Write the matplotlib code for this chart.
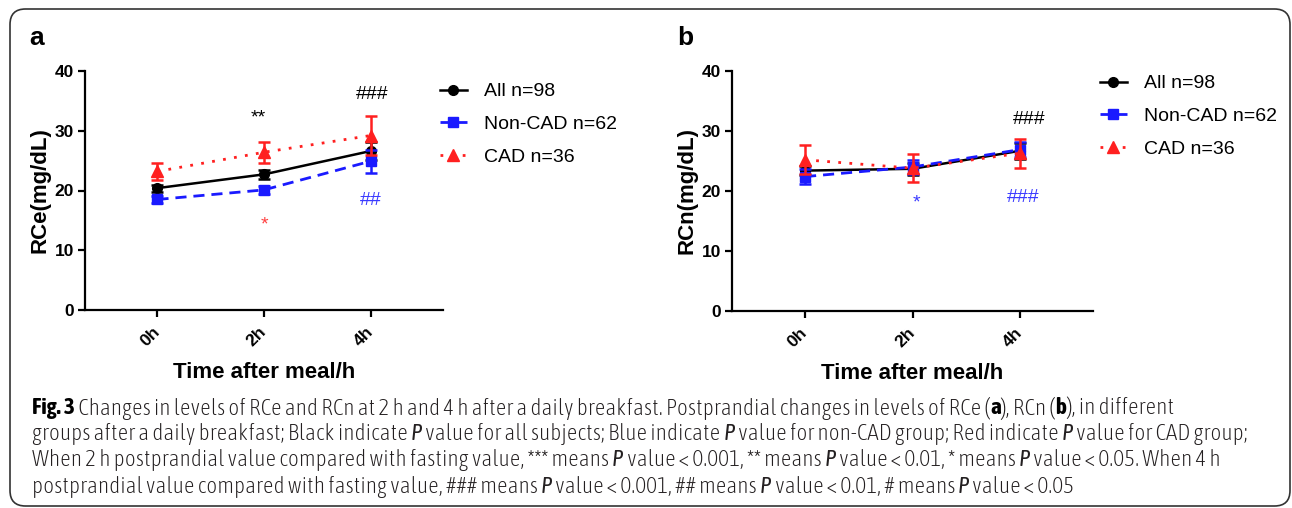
import matplotlib
matplotlib.use('Agg')
import matplotlib.pyplot as plt
from matplotlib import font_manager
from matplotlib.patches import FancyBboxPatch

# values
times = ['0h', '2h', '4h']
x = [0, 1, 2]

rce_all = [20.4, 22.7, 26.6]
rce_all_err = [0.6, 0.7, 1.5]
rce_non = [18.5, 20.1, 24.9]
rce_non_err = [0.6, 0.7, 1.9]
rce_cad = [23.2, 26.4, 29.2]
rce_cad_err = [1.4, 1.8, 3.3]

rcn_all = [23.4, 23.7, 26.7]
rcn_all_err = [0.8, 1.0, 1.3]
rcn_non = [22.4, 24.0, 26.9]
rcn_non_err = [1.2, 1.1, 1.2]
rcn_cad = [25.2, 23.8, 26.3]
rcn_cad_err = [2.4, 2.3, 2.4]

labels = ['All n=98', 'Non-CAD n=62', 'CAD n=36']

# significance marks: (x, y, text, colour)
marks_a = [(0.95, 32.2, '**', 'black'), (2.02, 36.0, '###', 'black'),
           (2.0, 18.3, '##', '#3a3aff'), (1.0, 14.2, '*', '#ff4040')]
marks_b = [(2.09, 32.0, '###', 'black'), (2.03, 19.0, '###', '#3a3aff'),
           (1.04, 18.0, '*', '#3a3aff')]

caption = [
    [('Fig. 3', 'b'), (' Changes in levels of RCe and RCn at 2 h and 4 h after a daily breakfast. '
                       'Postprandial changes in levels of RCe (', 'n'), ('a', 'b'), ('), RCn (', 'n'),
     ('b', 'b'), ('), in different', 'n')],
    [('groups after a daily breakfast; Black indicate ', 'n'), ('P', 'i'),
     (' value for all subjects; Blue indicate ', 'n'), ('P', 'i'),
     (' value for non-CAD group; Red indicate ', 'n'), ('P', 'i'), (' value for CAD group;', 'n')],
    [('When 2 h postprandial value compared with fasting value, *** means ', 'n'), ('P', 'i'),
     (' value < 0.001, ** means ', 'n'), ('P', 'i'), (' value < 0.01, * means ', 'n'), ('P', 'i'),
     (' value < 0.05. When 4 h', 'n')],
    [('postprandial value compared with fasting value, ### means ', 'n'), ('P', 'i'),
     (' value < 0.001, ## means ', 'n'), ('P', 'i'), (' value < 0.01, # means ', 'n'), ('P', 'i'),
     (' value < 0.05', 'n')],
]

plt.rcParams['font.family'] = ['Liberation Sans', 'DejaVu Sans']


def weight_num(w):
    if isinstance(w, str):
        return font_manager.weight_dict.get(w, 400)
    return w


# pick a narrow face for the caption if one is installed, preferring one that has a bold weight
fonts = font_manager.fontManager.ttflist
narrow = sorted({f.name for f in fonts if 'Narrow' in f.name or 'Condensed' in f.name})
with_bold = [n for n in narrow
             if any(f.name == n and weight_num(f.weight) >= 600 for f in fonts)
             and any(f.name == n and weight_num(f.weight) == 400 for f in fonts)]
pick = with_bold or narrow
cap_family = [pick[0], 'DejaVu Sans'] if pick else ['DejaVu Sans']

BLUE = '#1a1aff'
RED = '#ff2020'

W, H = 1292, 508
fig = plt.figure(figsize=(W / 100, H / 100), dpi=100)

# rounded frame round the whole figure
frame = FancyBboxPatch((10 / W, 2 / H), 1280 / W, 497 / H,
                       boxstyle='round,pad=0,rounding_size=0.012',
                       transform=fig.transFigure, fill=False,
                       edgecolor='#333333', linewidth=1.2, mutation_aspect=W / H)
fig.patches.append(frame)


def panel(ax, all_v, all_e, non_v, non_e, cad_v, cad_e, ylabel, marks):
    c1 = ax.errorbar(x, all_v, yerr=all_e, color='black', lw=1.8, marker='o', ms=7,
                     capsize=4.5, capthick=1.8, elinewidth=1.8, zorder=3)
    c2 = ax.errorbar(x, non_v, yerr=non_e, color=BLUE, lw=2.0, ls=(0, (4, 2.5)), marker='s', ms=7,
                     capsize=4.5, capthick=1.8, elinewidth=1.8, zorder=4)
    c3 = ax.errorbar(x, cad_v, yerr=cad_e, color=RED, lw=2.0, ls=(0, (1, 3)), marker='^', ms=8,
                     capsize=4.5, capthick=1.8, elinewidth=1.8, zorder=5)
    ax.set_xlim(-0.68, 2.68)
    ax.set_ylim(0, 40)
    ax.set_yticks([0, 10, 20, 30, 40])
    ax.set_xticks(x)
    ax.set_xticklabels(times, rotation=45, ha='right', va='center', rotation_mode='anchor')
    for s in ['top', 'right']:
        ax.spines[s].set_visible(False)
    for s in ['left', 'bottom']:
        ax.spines[s].set_linewidth(1.6)
    ax.tick_params(length=5, width=1.6, labelsize=12.5, pad=3)
    ax.tick_params(axis='x', pad=9)
    for t in ax.get_xticklabels() + ax.get_yticklabels():
        t.set_fontweight('bold')
    ax.set_ylabel(ylabel, fontsize=16, fontweight='bold', labelpad=3)
    ax.set_xlabel('Time after meal/h', fontsize=16, fontweight='bold', labelpad=9)
    for mx, my, txt, c in marks:
        ax.text(mx, my, txt, color=c, fontsize=14, ha='center', va='center')
    return [c1[0], c2[0], c3[0]]


axA = fig.add_axes([85 / W, 198 / H, 358 / W, 239 / H])
hA = panel(axA, rce_all, rce_all_err, rce_non, rce_non_err, rce_cad, rce_cad_err, 'RCe(mg/dL)', marks_a)
axB = fig.add_axes([732 / W, 197 / H, 361 / W, 240 / H])
hB = panel(axB, rcn_all, rcn_all_err, rcn_non, rcn_non_err, rcn_cad, rcn_cad_err, 'RCn(mg/dL)', marks_b)

for ax, hs, lx, ly in [(axA, hA, 432, 75), (axB, hB, 1092, 67)]:
    ax.legend(hs, labels, loc='upper left', bbox_to_anchor=(lx / W, 1 - ly / H),
              bbox_transform=fig.transFigure, frameon=False, fontsize=14, handlelength=1.4,
              handletextpad=0.9, labelspacing=0.78, borderaxespad=0)

fig.text(29 / W, 1 - 38 / H, 'a', fontsize=19, fontweight='bold', va='center')
fig.text(677 / W, 1 - 38 / H, 'b', fontsize=19, fontweight='bold', va='center')

# caption, drawn piece by piece so bold/italic runs stay inline
renderer = fig.canvas.get_renderer()


def seg_kw(style, size):
    kw = dict(fontsize=size, family=cap_family, va='center', ha='left', color='#231f20',
              fontweight='light')
    if style == 'b':
        kw['fontweight'] = 'bold'
        kw['color'] = 'black'
    elif style == 'i':
        kw['fontstyle'] = 'italic'
        kw['fontweight'] = 'normal'
    return kw


# size the caption so its four lines together take up the width they do in the original
base = 10
width = 0
for segs in caption:
    for txt, style in segs:
        t = fig.text(0, 0, txt, **seg_kw(style, base))
        width += t.get_window_extent(renderer).width
        t.remove()
cap_size = min(18, base * 4560 / width)

line_y = [408, 434, 460, 487]
for segs, yy in zip(caption, line_y):
    xpos = 32
    for txt, style in segs:
        t = fig.text(xpos / W, 1 - yy / H, txt, **seg_kw(style, cap_size))
        xpos += t.get_window_extent(renderer).width

fig.savefig('out.png', dpi=100)
